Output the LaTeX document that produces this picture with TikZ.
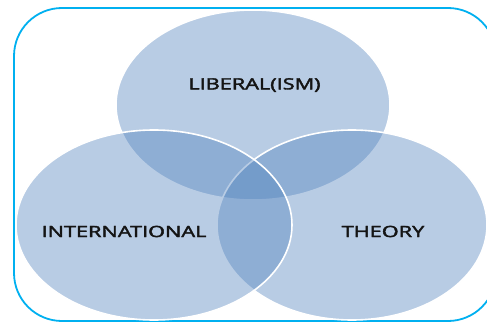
\documentclass[tikz,border=0pt]{standalone}
\usepackage{graphicx}
\usepackage{fontspec}
\setmainfont{Open Sans}[FakeBold=2.2]
\definecolor{vennblue}{HTML}{4F81BD}
\definecolor{frameblue}{HTML}{00B0F0}
\definecolor{txt}{HTML}{141414}
\newcommand{\widetxt}[1]{\scalebox{1.4}[1]{#1}}
\tikzset{
  venn/.style={draw=white, line width=1.6pt, fill=vennblue, fill opacity=0.4, draw opacity=1},
  lbl/.style={text=txt, font=\fontsize{15.5}{18}\selectfont, inner sep=0pt}
}
\begin{document}
\begin{tikzpicture}[x=1pt,y=1pt]
\useasboundingbox (0,0) rectangle (487,322);
\clip (0,0) rectangle (487,322);
\fill[white] (0,0) rectangle (487,322);
\draw[frameblue, line width=1.8pt, rounded corners=48pt] (14,1) rectangle (496,314);
\draw[venn] (253,217) ellipse [x radius=137, y radius=95];
\draw[venn] (352,97) ellipse [x radius=135, y radius=95];
\draw[venn] (154,97) ellipse [x radius=138, y radius=95];
\node[lbl] (lib) at (254.5,237) {\widetxt{LIBERAL(ISM)}};
\node[lbl] (int) at (124,90.5) {\widetxt{INTERNATIONAL}};
\node[lbl] (the) at (383,90.5) {\widetxt{THEORY}};
\end{tikzpicture}
\end{document}
